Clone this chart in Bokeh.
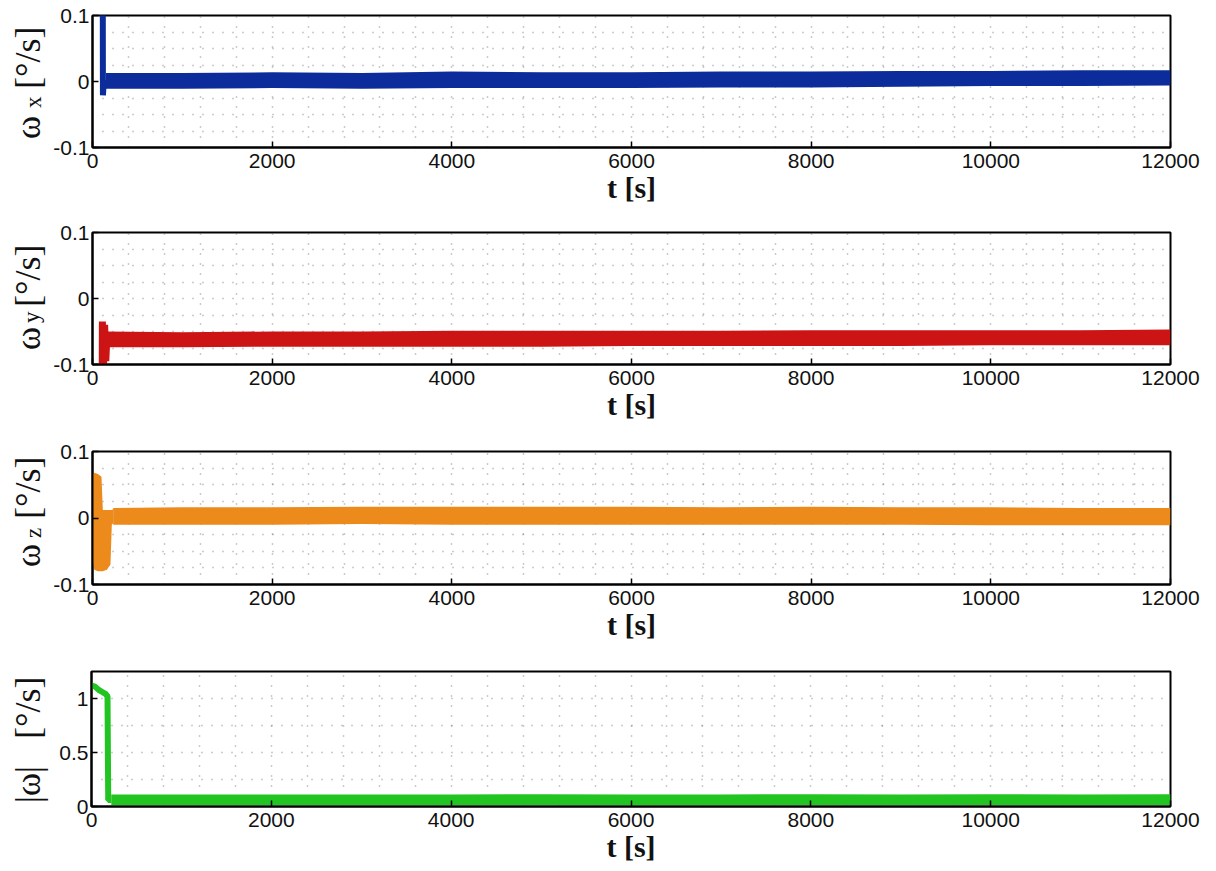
import math
from bokeh.plotting import figure
from bokeh.layouts import column, row
from bokeh.models import Range1d, FixedTicker, Div
from bokeh.embed import file_html
from bokeh.resources import INLINE

# ---------------- data ----------------
x_ticks = [0, 2000, 4000, 6000, 8000, 10000, 12000]
x_grid = list(range(0, 12001, 400))

t_band = [150, 1000, 2000, 3000, 4000, 5000, 6000, 7000, 8000, 9000, 10000, 11000, 12000]

# omega_x  [deg/s]
tx_trans = [0, 105, 116, 126, 150]
wx_trans = [1.0, 1.0, -0.021, 0.0, 0.002]
wx_hi = [0.013, 0.013, 0.014, 0.013, 0.015, 0.014, 0.014, 0.015, 0.015, 0.016, 0.016, 0.017, 0.017]
wx_lo = [-0.011, -0.011, -0.010, -0.011, -0.010, -0.010, -0.010, -0.009, -0.009, -0.008, -0.007, -0.007, -0.006]

# omega_y  [deg/s]
ty_trans = [0, 100, 110, 122, 135, 148, 160, 175]
wy_trans = [-0.5, -0.5, -0.035, -0.104, -0.04, -0.095, -0.058, -0.062]
wy_hi = [-0.050, -0.051, -0.050, -0.050, -0.049, -0.049, -0.049, -0.049, -0.048, -0.048, -0.048, -0.048, -0.047]
wy_lo = [-0.074, -0.074, -0.073, -0.073, -0.073, -0.073, -0.072, -0.072, -0.072, -0.072, -0.071, -0.071, -0.071]

# omega_z  [deg/s]
tz_init = [0, 20, 60, 100, 115, 160, 200, 215, 230]
wz_init_hi = [0.065, 0.068, 0.066, 0.062, 0.012, 0.012, 0.012, 0.012, 0.013]
wz_init_lo = [-0.060, -0.078, -0.080, -0.080, -0.080, -0.078, -0.070, -0.010, -0.008]
tz_band = [230, 1000, 2000, 3000, 4000, 5000, 6000, 7000, 8000, 9000, 10000, 11000, 12000]
wz_hi = [0.015, 0.016, 0.016, 0.017, 0.017, 0.017, 0.017, 0.016, 0.017, 0.016, 0.016, 0.015, 0.015]
wz_lo = [-0.010, -0.010, -0.010, -0.009, -0.010, -0.010, -0.010, -0.010, -0.010, -0.010, -0.011, -0.011, -0.011]

# |omega|  [deg/s]
tm_trans = [0, 40, 80, 120, 160, 178, 186, 220]
wm_trans = [1.12, 1.11, 1.08, 1.06, 1.04, 1.02, 0.06, 0.06]
tm_band = [220, 1000, 2000, 3000, 4000, 5000, 6000, 7000, 8000, 9000, 10000, 11000, 12000]
wm_hi = [0.112, 0.112, 0.112, 0.112, 0.112, 0.114, 0.112, 0.112, 0.114, 0.112, 0.114, 0.112, 0.114]
wm_lo = [0.012, 0.012, 0.012, 0.012, 0.012, 0.013, 0.012, 0.012, 0.013, 0.012, 0.013, 0.012, 0.013]

BLUE = "#0c2c9c"
RED = "#cc1414"
ORANGE = "#ec8a1c"
GREEN = "#22c422"

LAB_W = 50          # width of the strip that holds the y-axis titles
MAIN_W = 1216 - LAB_W


def make_panel(h, top, bottom, yr, yticks, ygrid, overrides):
    p = figure(width=MAIN_W, height=h, x_range=Range1d(0, 12000), y_range=Range1d(*yr),
               output_backend="svg", toolbar_location=None, title=None,
               min_border_left=91 - LAB_W, min_border_right=46,
               min_border_top=top, min_border_bottom=bottom)
    p.outline_line_color = "black"
    p.outline_line_width = 2
    p.outline_line_alpha = 1

    xa = p.xaxis[0]
    xa.ticker = FixedTicker(ticks=x_ticks)
    xa.major_tick_in = 6
    xa.major_tick_out = 0
    xa.minor_tick_line_color = None
    xa.axis_line_width = 2
    xa.major_tick_line_width = 1.5
    xa.major_label_text_font = "Liberation Sans"
    xa.major_label_text_font_size = "21px"
    xa.major_label_text_color = "#111111"
    xa.major_label_standoff = 6
    xa.axis_label = "t [s]"
    xa.axis_label_text_font = "Liberation Serif"
    xa.axis_label_text_font_style = "bold"
    xa.axis_label_text_font_size = "30px"
    xa.axis_label_text_color = "#111111"
    xa.axis_label_standoff = 0

    ya = p.yaxis[0]
    ya.ticker = FixedTicker(ticks=yticks)
    ya.major_label_overrides = overrides
    ya.major_tick_in = 6
    ya.major_tick_out = 0
    ya.minor_tick_line_color = None
    ya.axis_line_width = 2
    ya.major_tick_line_width = 1.5
    ya.major_label_text_font = "Liberation Sans"
    ya.major_label_text_font_size = "21px"
    ya.major_label_text_color = "#111111"
    ya.major_label_standoff = 3
    ya.axis_label = None

    p.xgrid[0].ticker = FixedTicker(ticks=x_grid)
    p.ygrid[0].ticker = FixedTicker(ticks=ygrid)
    for g in (p.xgrid[0], p.ygrid[0]):
        g.grid_line_color = "#555555"
        g.grid_line_alpha = 0.6
        g.grid_line_dash = "1 9"
        g.grid_line_width = 1.5
    return p


def rot_span(text, size, baseline_x, start_y):
    # rotated (reading bottom-to-top) span; baseline at baseline_x, text starts at start_y
    left = baseline_x - 0.8375 * size
    return ('<span style="position:absolute;left:%.1fpx;top:%.1fpx;transform-origin:0 0;'
            'transform:rotate(-90deg);font-family:\'Liberation Serif\';font-size:%dpx;'
            'line-height:%dpx;white-space:nowrap;color:#111111;">%s</span>'
            % (left, start_y, size, size, text))


def label_strip(h, parts):
    inner = "".join(rot_span(*pt) for pt in parts)
    html = ('<div style="position:relative;width:%dpx;height:%dpx;overflow:visible;">%s</div>'
            % (LAB_W, h, inner))
    return Div(text=html, width=LAB_W, height=h, margin=0)


ov = {-0.1: "-0.1", 0: "0", 0.1: "0.1"}
yg = [-0.075, -0.05, -0.025, 0, 0.025, 0.05, 0.075]
yr_w = (-0.1, 0.1)
yr_m = (0, 1.25)

# Panel 1: omega_x
p1 = make_panel(217, 15, 70, yr_w, [-0.1, 0, 0.1], yg, ov)
p1.varea(x=t_band, y1=wx_lo, y2=wx_hi, fill_color=BLUE)
p1.line(tx_trans, wx_trans, line_color=BLUE, line_width=6)
l1 = label_strip(217, [("ω", 35, 40, 139), ("x", 23, 41, 108), ("[°/s]", 36, 40, 89)])

# Panel 2: omega_y
p2 = make_panel(219, 15, 72, yr_w, [-0.1, 0, 0.1], yg, ov)
p2.varea(x=t_band, y1=wy_lo, y2=wy_hi, fill_color=RED)
p2.line(ty_trans, wy_trans, line_color=RED, line_width=7)
l2 = label_strip(219, [("ω", 35, 40, 133), ("y", 23, 39, 106), ("[°/s]", 36, 40, 90)])

# Panel 3: omega_z
p3 = make_panel(220, 15, 72, yr_w, [-0.1, 0, 0.1], yg, ov)
p3.varea(x=tz_init, y1=wz_init_lo, y2=wz_init_hi, fill_color=ORANGE)
p3.varea(x=tz_band, y1=wz_lo, y2=wz_hi, fill_color=ORANGE)
l3 = label_strip(220, [("ω", 35, 40, 131), ("z", 23, 41, 102), ("[°/s]", 36, 40, 83)])

# Panel 4: |omega|
p4 = make_panel(215, 15, 65, yr_m, [0, 0.5, 1], [0.25, 0.5, 0.75, 1.0],
                {0: "0", 0.5: "0.5", 1: "1"})
p4.varea(x=tm_band, y1=wm_lo, y2=wm_hi, fill_color=GREEN)
p4.line(tm_trans, wm_trans, line_color=GREEN, line_width=6)
l4 = label_strip(215, [("|ω|", 35, 40, 147), ("[°/s]", 36, 40, 83)])

layout = column(row(l1, p1, spacing=0), row(l2, p2, spacing=0),
                row(l3, p3, spacing=0), row(l4, p4, spacing=0), spacing=0)
open("out.html", "w").write(file_html(layout, INLINE))
